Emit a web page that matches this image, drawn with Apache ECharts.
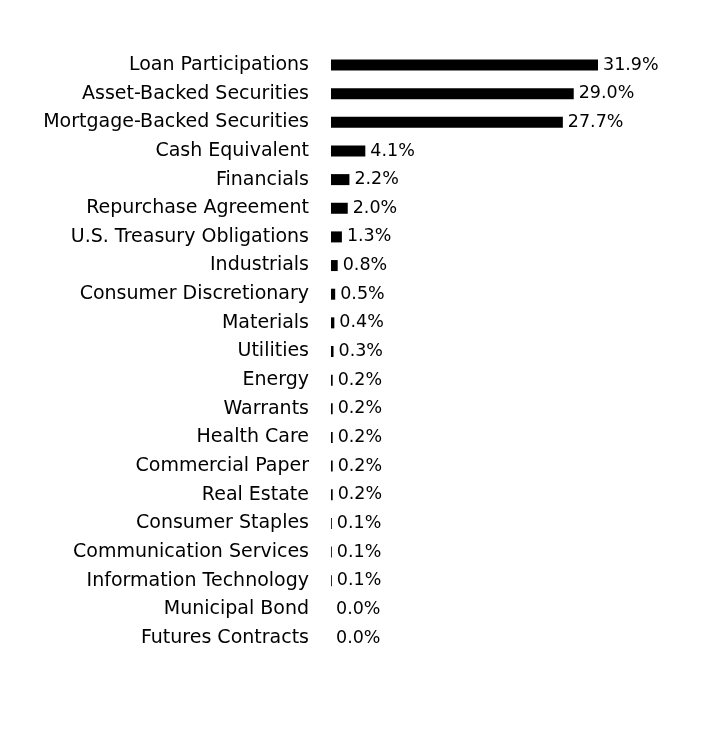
<!DOCTYPE html>
<html><head><meta charset="utf-8">
<script src="https://cdn.jsdelivr.net/npm/echarts@6/dist/echarts.min.js"></script>
<style>html,body{margin:0;padding:0;background:#fff}#c{width:708px;height:732px}</style>
</head><body><div id="c"></div>
<script>
const categories = ["Loan Participations","Asset-Backed Securities","Mortgage-Backed Securities","Cash Equivalent","Financials","Repurchase Agreement","U.S. Treasury Obligations","Industrials","Consumer Discretionary","Materials","Utilities","Energy","Warrants","Health Care","Commercial Paper","Real Estate","Consumer Staples","Communication Services","Information Technology","Municipal Bond","Futures Contracts"];
const values = [31.9,29.0,27.7,4.1,2.2,2.0,1.3,0.8,0.5,0.4,0.3,0.2,0.2,0.2,0.2,0.2,0.1,0.1,0.1,0.0,0.0];
const FONT = "DejaVu Sans";
const chart = echarts.init(document.getElementById('c'));
chart.setOption({
  animation:false,
  grid:{left:331,top:50.7,height:601.6,width:334.8},
  xAxis:{type:'value',min:0,max:40,show:false},
  yAxis:{type:'category',data:categories,inverse:true,
    axisLine:{show:false},axisTick:{show:false},
    axisLabel:{margin:22,fontSize:19,color:'#000',fontFamily:FONT}},
  series:[{type:'bar',data:values,barWidth:11,itemStyle:{color:'#000'},
    label:{show:true,position:'right',distance:5,fontSize:17.5,color:'#000',fontFamily:FONT,
      formatter:p=>p.value.toFixed(1)+'%'}}]
});
</script></body></html>
